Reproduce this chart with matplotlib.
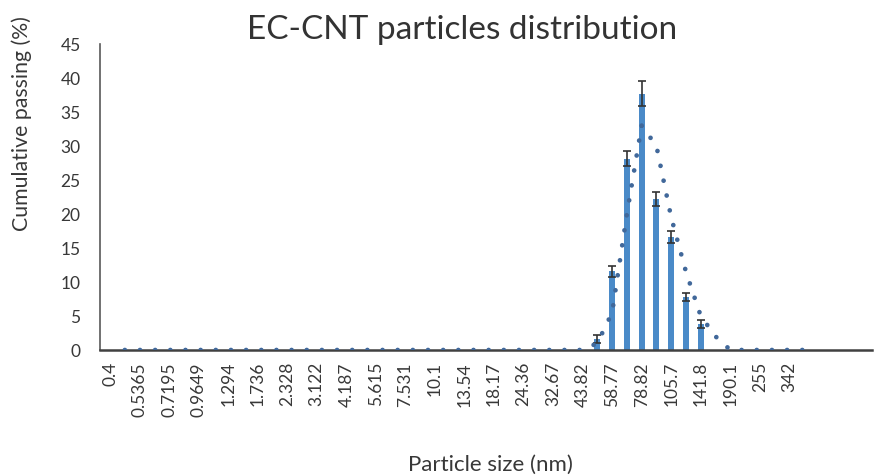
import numpy as np
import matplotlib
matplotlib.use("Agg")
import matplotlib.pyplot as plt

# ====== data ======
# size classes (nm), one per bar slot; trailing slots are empty on the axis
sizes = ["0.4", "0.4632", "0.5365", "0.6213", "0.7195", "0.8332", "0.9649", "1.117",
         "1.294", "1.499", "1.736", "2.01", "2.328", "2.696", "3.122", "3.615",
         "4.187", "4.849", "5.615", "6.503", "7.531", "8.721", "10.1", "11.7",
         "13.54", "15.69", "18.17", "21.04", "24.36", "28.21", "32.67", "37.84",
         "43.82", "50.75", "58.77", "68.06", "78.82", "91.28", "105.7", "122.4",
         "141.8", "164.2", "190.1", "220.2", "255", "295.3", "342", "396.1",
         "", "", "", ""]

# mean passing (%) for the non-zero classes, with std deviation
peak_sizes = ["50.75", "58.77", "68.06", "78.82", "91.28", "105.7", "122.4", "141.8"]
peak_mean = [1.6, 11.6, 28.1, 37.7, 22.2, 16.6, 7.8, 3.8]
peak_err = [0.6, 0.8, 1.1, 1.8, 1.0, 0.9, 0.6, 0.6]

# dotted trend (two-point moving average), from 0.4632 up to 396.1
trend_sizes = ["50.75", "58.77", "68.06", "78.82", "91.28", "105.7", "122.4", "141.8", "164.2"]
trend_vals = [1.0, 5.5, 20.0, 33.0, 30.0, 19.5, 11.5, 5.0, 2.0]

BAR_COLOR = "#4A8AC8"
TREND_COLOR = "#41689A"
TEXT_COLOR = "#383838"
FONT = ["Lato", "DejaVu Sans"]

plt.rcParams["font.family"] = FONT

n = len(sizes)
x = np.arange(n)
pos = {s: i for i, s in enumerate(sizes) if s}

values = np.zeros(n)
errors = np.zeros(n)
for s, v, e in zip(peak_sizes, peak_mean, peak_err):
    values[pos[s]] = v
    errors[pos[s]] = e

trend = np.zeros(pos["396.1"] + 1)
for s, v in zip(trend_sizes, trend_vals):
    trend[pos[s]] = v
trend_x = np.arange(1, len(trend))
trend_y = trend[1:]

# ====== plot ======
fig = plt.figure(figsize=(8.75, 4.77), dpi=100)
ax = fig.add_axes([0.1143, 0.2642, 0.8823, 0.6415])

ax.bar(x, values, width=0.4, color=BAR_COLOR, zorder=2)
mask = values > 0
ax.errorbar(x[mask], values[mask], yerr=errors[mask], fmt="none",
            ecolor="#333333", elinewidth=1.2, capsize=3, capthick=1.2, zorder=3)
ax.plot(trend_x, trend_y, color=TREND_COLOR, linewidth=3.4,
        linestyle=(0, (0.01, 3.2)), dash_capstyle="round", zorder=4)

ax.set_xlim(-0.68, 51.6)
ax.set_ylim(0, 45)
ax.set_yticks(np.arange(0, 46, 5))
ax.set_xticks(x[0:47:2])
ax.set_xticklabels([sizes[i] for i in range(0, 47, 2)], rotation=90)
ax.tick_params(axis="both", length=0, labelsize=12.5, labelcolor=TEXT_COLOR)
ax.tick_params(axis="y", pad=14)
ax.tick_params(axis="x", pad=8)

for side in ["top", "right"]:
    ax.spines[side].set_visible(False)
ax.spines["left"].set_color("#595959")
ax.spines["left"].set_linewidth(1.2)
ax.spines["bottom"].set_color("#404040")
ax.spines["bottom"].set_linewidth(1.8)

fig.text(0.528, 0.937, "EC-CNT particles distribution", ha="center", va="center",
         fontsize=24, color="#333333")
fig.text(0.025, 0.74, "Cumulative passing (%)", rotation=90, ha="center", va="center",
         fontsize=15.3, color=TEXT_COLOR)
fig.text(0.56, 0.025, "Particle size (nm)", ha="center", va="center",
         fontsize=16, color=TEXT_COLOR)

fig.savefig("out.png", dpi=100)
plt.close(fig)
